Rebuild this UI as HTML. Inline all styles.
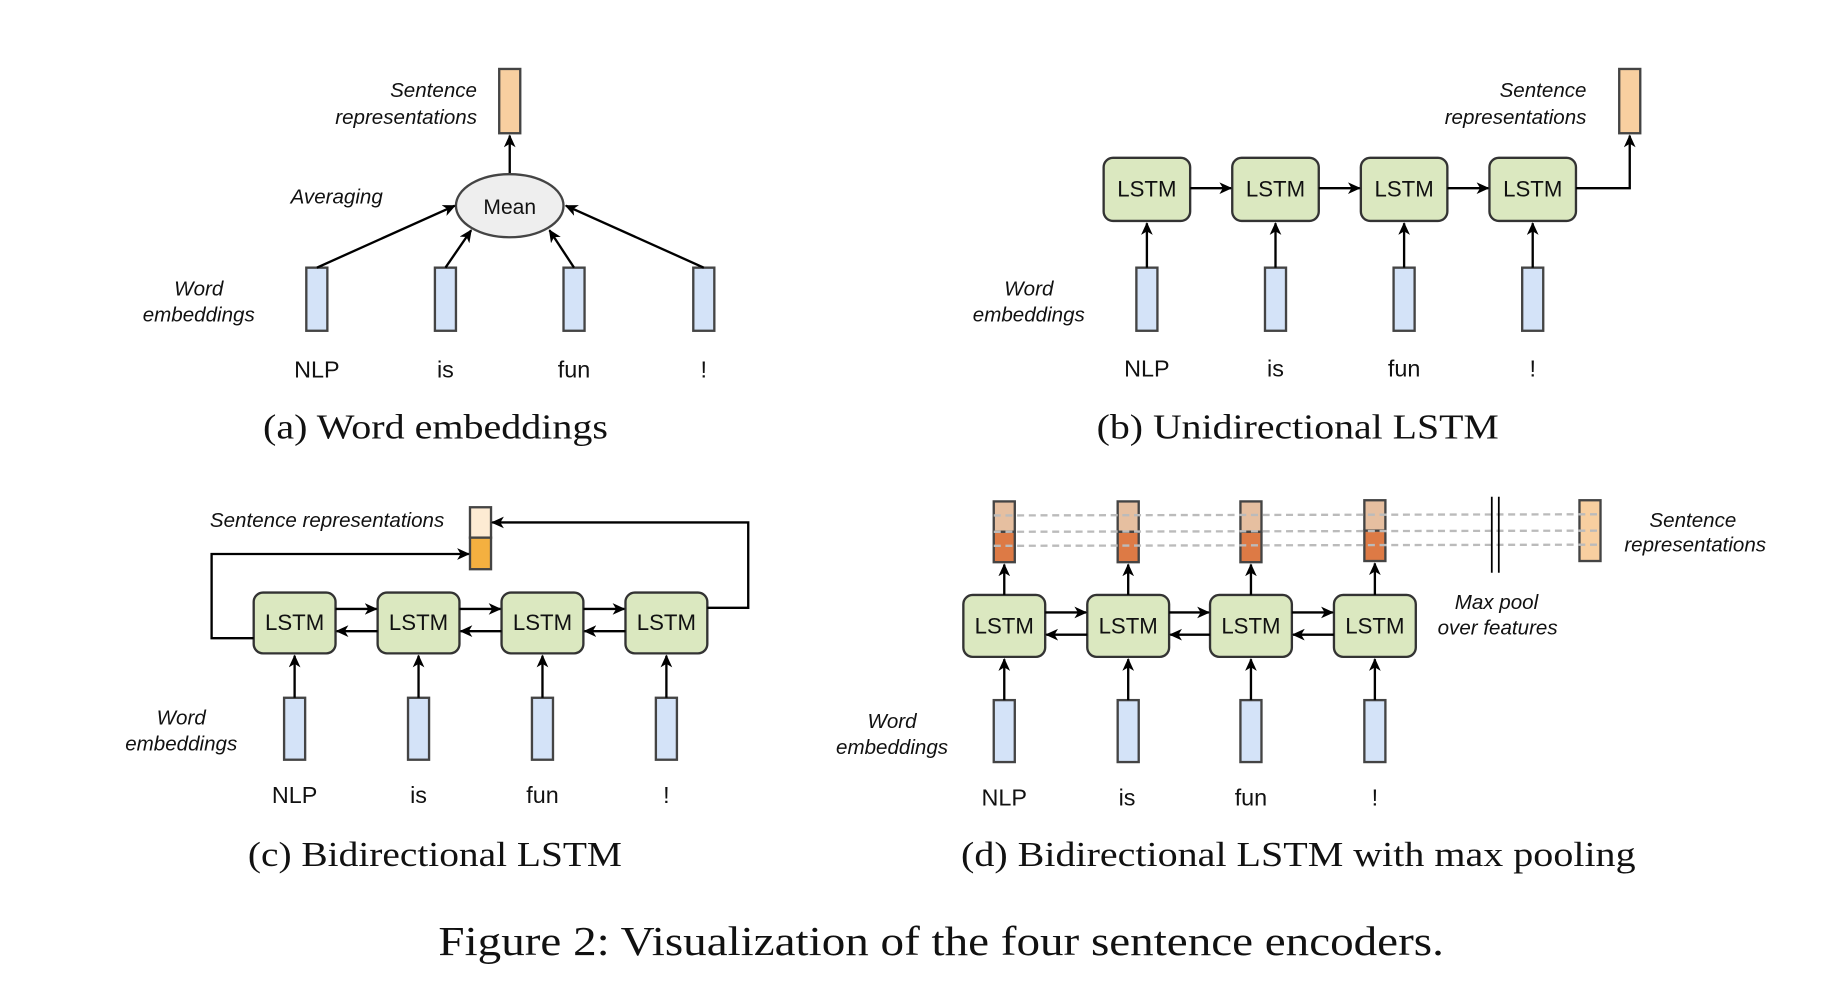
<!DOCTYPE html>
<html><head><meta charset="utf-8"><style>
html,body{margin:0;padding:0;background:#fff;}
svg{display:block;}
.it{font-family:"Liberation Sans",sans-serif;font-style:italic;font-size:17.6px;fill:#111;}
.w{font-family:"Liberation Sans",sans-serif;font-size:20px;fill:#111;}
.l{font-family:"Liberation Sans",sans-serif;font-size:19px;fill:#111;}
.cap{font-family:"Liberation Serif",serif;font-size:30px;fill:#111;}
.blue{fill:#d4e3f8;stroke:#444;stroke-width:2;}
.lstm{fill:#dbe8c0;stroke:#333;stroke-width:2;}
.ar{stroke:#000;stroke-width:2;fill:none;marker-end:url(#ah);}
.dash{stroke:#bbb;stroke-width:2;stroke-dasharray:6,4;}
</style></head><body>
<svg width="1832" height="1004" viewBox="0 0 1567 859" preserveAspectRatio="none" xmlns="http://www.w3.org/2000/svg">
<defs><marker id="ah" markerWidth="12" markerHeight="12" refX="10" refY="5" orient="auto" markerUnits="userSpaceOnUse"><path d="M0,0 L11,5 L0,10 L3,5 z" fill="#000"/></marker></defs>

<!-- (a) -->
<rect x="427" y="59" width="18" height="55" fill="#f8cfa0" stroke="#444" stroke-width="2"/>
<line class="ar" x1="436" y1="149" x2="436" y2="116"/>
<ellipse cx="436" cy="176" rx="46" ry="27" fill="#eee" stroke="#444" stroke-width="2"/>
<text class="w" x="436" y="183" text-anchor="middle" style="font-size:18px">Mean</text>
<g>
<rect class="blue" x="262" y="229" width="18" height="54"/><rect class="blue" x="372" y="229" width="18" height="54"/>
<rect class="blue" x="482" y="229" width="18" height="54"/><rect class="blue" x="593" y="229" width="18" height="54"/>
</g>
<line class="ar" x1="271" y1="229" x2="389" y2="176"/>
<line class="ar" x1="381" y1="229" x2="403" y2="197"/>
<line class="ar" x1="491" y1="229" x2="470" y2="197"/>
<line class="ar" x1="602" y1="229" x2="484" y2="176"/>
<text class="it" x="408" y="83" text-anchor="end">Sentence</text>
<text class="it" x="408" y="106" text-anchor="end">representations</text>
<text class="it" x="288" y="174" text-anchor="middle">Averaging</text>
<text class="it" x="170" y="253" text-anchor="middle">Word</text>
<text class="it" x="170" y="275" text-anchor="middle">embeddings</text>
<text class="w" x="271" y="323" text-anchor="middle">NLP</text><text class="w" x="381" y="323" text-anchor="middle">is</text>
<text class="w" x="491" y="323" text-anchor="middle">fun</text><text class="w" x="602" y="323" text-anchor="middle">!</text>
<text class="cap" x="225" y="375" textLength="295" lengthAdjust="spacingAndGlyphs">(a) Word embeddings</text>

<!-- (b) -->
<rect x="1385" y="59" width="18" height="55" fill="#f8cfa0" stroke="#444" stroke-width="2"/>
<g>
<rect class="lstm" x="944" y="135" width="74" height="54" rx="8"/><rect class="lstm" x="1054" y="135" width="74" height="54" rx="8"/>
<rect class="lstm" x="1164" y="135" width="74" height="54" rx="8"/><rect class="lstm" x="1274" y="135" width="74" height="54" rx="8"/>
</g>
<text class="l" x="981" y="168" text-anchor="middle">LSTM</text><text class="l" x="1091" y="168" text-anchor="middle">LSTM</text>
<text class="l" x="1201" y="168" text-anchor="middle">LSTM</text><text class="l" x="1311" y="168" text-anchor="middle">LSTM</text>
<line class="ar" x1="1018" y1="161" x2="1053" y2="161"/><line class="ar" x1="1128" y1="161" x2="1163" y2="161"/>
<line class="ar" x1="1238" y1="161" x2="1273" y2="161"/>
<path class="ar" d="M1348,161 L1394,161 L1394,116"/>
<g>
<rect class="blue" x="972" y="229" width="18" height="54"/><rect class="blue" x="1082" y="229" width="18" height="54"/>
<rect class="blue" x="1192" y="229" width="18" height="54"/><rect class="blue" x="1302" y="229" width="18" height="54"/>
</g>
<line class="ar" x1="981" y1="229" x2="981" y2="191"/><line class="ar" x1="1091" y1="229" x2="1091" y2="191"/>
<line class="ar" x1="1201" y1="229" x2="1201" y2="191"/><line class="ar" x1="1311" y1="229" x2="1311" y2="191"/>
<text class="it" x="1357" y="83" text-anchor="end">Sentence</text>
<text class="it" x="1357" y="106" text-anchor="end">representations</text>
<text class="it" x="880" y="253" text-anchor="middle">Word</text>
<text class="it" x="880" y="275" text-anchor="middle">embeddings</text>
<text class="w" x="981" y="322" text-anchor="middle">NLP</text><text class="w" x="1091" y="322" text-anchor="middle">is</text>
<text class="w" x="1201" y="322" text-anchor="middle">fun</text><text class="w" x="1311" y="322" text-anchor="middle">!</text>
<text class="cap" x="938" y="375" textLength="344" lengthAdjust="spacingAndGlyphs">(b) Unidirectional LSTM</text>

<!-- (c) -->
<rect x="402" y="434" width="18" height="26" fill="#fdebd3" stroke="#444" stroke-width="2"/>
<rect x="402" y="460" width="18" height="27" fill="#f4b040" stroke="#444" stroke-width="2"/>
<g>
<rect class="lstm" x="217" y="507" width="70" height="52" rx="8"/><rect class="lstm" x="323" y="507" width="70" height="52" rx="8"/>
<rect class="lstm" x="429" y="507" width="70" height="52" rx="8"/><rect class="lstm" x="535" y="507" width="70" height="52" rx="8"/>
</g>
<text class="l" x="252" y="539" text-anchor="middle">LSTM</text><text class="l" x="358" y="539" text-anchor="middle">LSTM</text>
<text class="l" x="464" y="539" text-anchor="middle">LSTM</text><text class="l" x="570" y="539" text-anchor="middle">LSTM</text>
<line class="ar" x1="287" y1="521" x2="322" y2="521"/><line class="ar" x1="393" y1="521" x2="428" y2="521"/><line class="ar" x1="499" y1="521" x2="534" y2="521"/>
<line class="ar" x1="323" y1="540" x2="288" y2="540"/><line class="ar" x1="429" y1="540" x2="394" y2="540"/><line class="ar" x1="535" y1="540" x2="500" y2="540"/>
<path class="ar" d="M217,546 L181,546 L181,474 L401,474"/>
<path class="ar" d="M605,520 L640,520 L640,447 L421,447"/>
<g>
<rect class="blue" x="243" y="597" width="18" height="53"/><rect class="blue" x="349" y="597" width="18" height="53"/>
<rect class="blue" x="455" y="597" width="18" height="53"/><rect class="blue" x="561" y="597" width="18" height="53"/>
</g>
<line class="ar" x1="252" y1="597" x2="252" y2="561"/><line class="ar" x1="358" y1="597" x2="358" y2="561"/>
<line class="ar" x1="464" y1="597" x2="464" y2="561"/><line class="ar" x1="570" y1="597" x2="570" y2="561"/>
<text class="it" x="380" y="451" text-anchor="end">Sentence representations</text>
<text class="it" x="155" y="620" text-anchor="middle">Word</text>
<text class="it" x="155" y="642" text-anchor="middle">embeddings</text>
<text class="w" x="252" y="687" text-anchor="middle">NLP</text><text class="w" x="358" y="687" text-anchor="middle">is</text>
<text class="w" x="464" y="687" text-anchor="middle">fun</text><text class="w" x="570" y="687" text-anchor="middle">!</text>
<text class="cap" x="212" y="741" textLength="320" lengthAdjust="spacingAndGlyphs">(c) Bidirectional LSTM</text>

<!-- (d) -->
<g>
<rect x="850" y="429" width="18" height="26" fill="#e6bfa0" stroke="#444" stroke-width="2"/><rect x="850" y="455" width="18" height="26" fill="#dd7a45" stroke="#444" stroke-width="2"/>
<rect x="956" y="429" width="18" height="26" fill="#e6bfa0" stroke="#444" stroke-width="2"/><rect x="956" y="455" width="18" height="26" fill="#dd7a45" stroke="#444" stroke-width="2"/>
<rect x="1061" y="429" width="18" height="26" fill="#e6bfa0" stroke="#444" stroke-width="2"/><rect x="1061" y="455" width="18" height="26" fill="#dd7a45" stroke="#444" stroke-width="2"/>
<rect x="1167" y="428" width="18" height="26" fill="#e6bfa0" stroke="#444" stroke-width="2"/><rect x="1167" y="454" width="18" height="26" fill="#dd7a45" stroke="#444" stroke-width="2"/>
<rect x="1351" y="428" width="18" height="52" fill="#f8cfa0" stroke="#444" stroke-width="2"/>
</g>
<line class="dash" x1="850" y1="441" x2="1369" y2="440"/>
<line class="dash" x1="850" y1="455" x2="1369" y2="454"/>
<line class="dash" x1="850" y1="467" x2="1369" y2="466"/>
<line x1="1276" y1="425" x2="1276" y2="490" stroke="#000" stroke-width="1.5"/>
<line x1="1282" y1="425" x2="1282" y2="490" stroke="#000" stroke-width="1.5"/>
<g>
<rect class="lstm" x="824" y="509" width="70" height="53" rx="8"/><rect class="lstm" x="930" y="509" width="70" height="53" rx="8"/>
<rect class="lstm" x="1035" y="509" width="70" height="53" rx="8"/><rect class="lstm" x="1141" y="509" width="70" height="53" rx="8"/>
</g>
<text class="l" x="859" y="542" text-anchor="middle">LSTM</text><text class="l" x="965" y="542" text-anchor="middle">LSTM</text>
<text class="l" x="1070" y="542" text-anchor="middle">LSTM</text><text class="l" x="1176" y="542" text-anchor="middle">LSTM</text>
<line class="ar" x1="894" y1="524" x2="929" y2="524"/><line class="ar" x1="1000" y1="524" x2="1034" y2="524"/><line class="ar" x1="1105" y1="524" x2="1140" y2="524"/>
<line class="ar" x1="930" y1="543" x2="895" y2="543"/><line class="ar" x1="1035" y1="543" x2="1001" y2="543"/><line class="ar" x1="1141" y1="543" x2="1106" y2="543"/>
<line class="ar" x1="859" y1="509" x2="859" y2="483"/><line class="ar" x1="965" y1="509" x2="965" y2="483"/>
<line class="ar" x1="1070" y1="509" x2="1070" y2="483"/><line class="ar" x1="1176" y1="509" x2="1176" y2="482"/>
<g>
<rect class="blue" x="850" y="599" width="18" height="53"/><rect class="blue" x="956" y="599" width="18" height="53"/>
<rect class="blue" x="1061" y="599" width="18" height="53"/><rect class="blue" x="1167" y="599" width="18" height="53"/>
</g>
<line class="ar" x1="859" y1="599" x2="859" y2="564"/><line class="ar" x1="965" y1="599" x2="965" y2="564"/>
<line class="ar" x1="1070" y1="599" x2="1070" y2="564"/><line class="ar" x1="1176" y1="599" x2="1176" y2="564"/>
<text class="it" x="1448" y="451" text-anchor="middle">Sentence</text>
<text class="it" x="1450" y="472" text-anchor="middle">representations</text>
<text class="it" x="1280" y="521" text-anchor="middle">Max pool</text>
<text class="it" x="1281" y="543" text-anchor="middle">over features</text>
<text class="it" x="763" y="623" text-anchor="middle">Word</text>
<text class="it" x="763" y="645" text-anchor="middle">embeddings</text>
<text class="w" x="859" y="689" text-anchor="middle">NLP</text><text class="w" x="964" y="689" text-anchor="middle">is</text>
<text class="w" x="1070" y="689" text-anchor="middle">fun</text><text class="w" x="1176" y="689" text-anchor="middle">!</text>
<text class="cap" x="822" y="741" textLength="577" lengthAdjust="spacingAndGlyphs">(d) Bidirectional LSTM with max pooling</text>

<text class="cap" x="375" y="817" textLength="860" lengthAdjust="spacingAndGlyphs" style="font-size:35px">Figure 2: Visualization of the four sentence encoders.</text>
</svg>
</body></html>
